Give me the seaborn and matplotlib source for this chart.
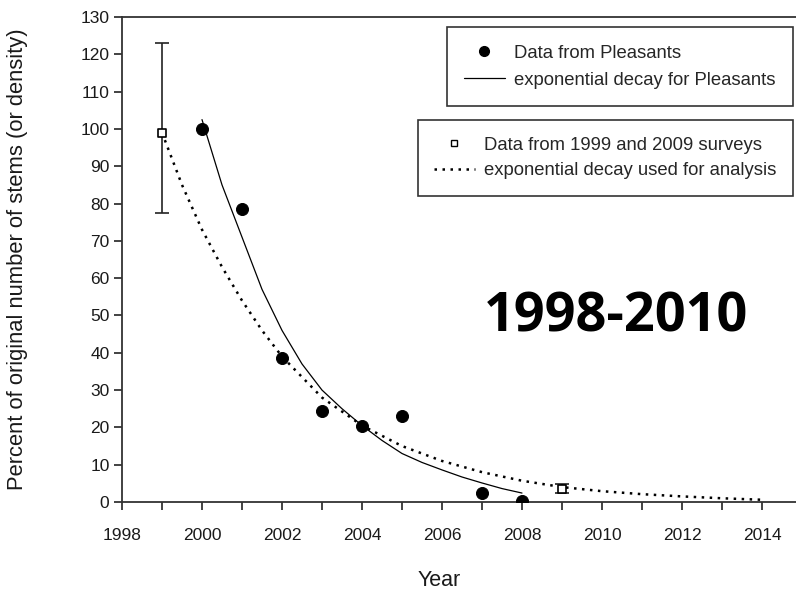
import matplotlib
matplotlib.use("Agg")
import matplotlib.pyplot as plt
import seaborn as sns
import pandas as pd
from matplotlib.lines import Line2D

# Data
pleasants_year = [2000, 2001, 2002, 2003, 2004, 2005, 2007, 2008]
pleasants_pct = [100, 78.5, 38.5, 24.5, 20.5, 23, 2.5, 0.3]

survey_year = [1999, 2009]
survey_pct = [99, 3.5]
survey_err_low = [21.5, 1.2]
survey_err_high = [24, 1.2]

fit_pleasants_year = [2000, 2000.5, 2001, 2001.5, 2002, 2002.5, 2003, 2003.5, 2004,
                      2004.5, 2005, 2005.5, 2006, 2006.5, 2007, 2007.5, 2008]
fit_pleasants_pct = [102.5, 85, 71, 57, 46, 37, 30, 25, 20.5,
                     16.5, 13, 10.6, 8.6, 6.7, 5.1, 3.6, 2.4]

fit_analysis_year = [1999, 1999.5, 2000, 2000.5, 2001, 2001.5, 2002, 2003, 2004, 2005, 2006,
                     2007, 2008, 2009, 2010, 2011, 2012, 2013, 2014]
fit_analysis_pct = [99, 85, 73, 63, 54, 46, 39, 28, 20.5, 15, 11,
                    8, 5.7, 4.0, 2.9, 2.1, 1.5, 1.0, 0.6]

xticks = list(range(1998, 2015, 2))
yticks = list(range(0, 131, 10))

sns.set_theme(style="ticks")
plt.rcParams['font.family'] = ['Liberation Sans', 'DejaVu Sans']

fig = plt.figure(figsize=(7.96, 5.94), dpi=100)
ax = fig.add_axes([122/796, 1-502/594, 1-122/796, (502-17)/594])

df_fit1 = pd.DataFrame({"Year": fit_pleasants_year, "pct": fit_pleasants_pct})
df_fit2 = pd.DataFrame({"Year": fit_analysis_year, "pct": fit_analysis_pct})
df_p = pd.DataFrame({"Year": pleasants_year, "pct": pleasants_pct})
df_s = pd.DataFrame({"Year": survey_year, "pct": survey_pct})

sns.lineplot(data=df_fit2, x="Year", y="pct", ax=ax, color="black",
             linestyle=(0, (1, 2.2)), linewidth=1.8, zorder=2)
sns.lineplot(data=df_fit1, x="Year", y="pct", ax=ax, color="black",
             linewidth=0.9, zorder=2)
ax.errorbar(survey_year, survey_pct, yerr=[survey_err_low, survey_err_high],
            fmt="none", ecolor="#222222", elinewidth=1.2, capsize=5, capthick=1.2, zorder=3)
sns.scatterplot(data=df_s, x="Year", y="pct", ax=ax, marker="s", s=40,
                facecolor="white", edgecolor="black", linewidth=1.2, zorder=4)
sns.scatterplot(data=df_p, x="Year", y="pct", ax=ax, marker="o", s=75,
                color="black", edgecolor="black", zorder=5)

ax.set_xlim(1998, 2014.85)
ax.set_ylim(0, 130)
ax.set_xticks(xticks)
ax.set_xticks(list(range(1998, 2015)), minor=True)
ax.set_yticks(yticks)
ax.tick_params(axis="both", which="both", direction="out", length=6, width=1.2,
               color="#222222", labelsize=12.5, labelcolor="#1a1a1a", pad=3)
ax.tick_params(axis="x", which="major", pad=13)
for side in ["left", "bottom", "top"]:
    ax.spines[side].set_visible(True)
    ax.spines[side].set_linewidth(1.3)
    ax.spines[side].set_color("#333333")
ax.spines["right"].set_visible(False)

ax.set_xlabel("Year", fontsize=15.5, color="#1a1a1a")
ax.xaxis.set_label_coords(0.47, -(580-502)/485, transform=ax.transAxes)
ax.xaxis.label.set_va("center")
ax.set_ylabel("Percent of original number of stems (or density)", fontsize=15.8,
              color="#1a1a1a")
ax.yaxis.set_label_coords(-(122-18)/674, 0.5, transform=ax.transAxes)
ax.yaxis.label.set_va("center")

lfs = 13.3
h1 = [Line2D([], [], marker="o", color="black", linestyle="none", markersize=7),
      Line2D([], [], color="black", linewidth=0.9)]
leg1 = fig.legend(h1, ["Data from Pleasants", "exponential decay for Pleasants"],
                  loc="upper right", bbox_to_anchor=(793/796, 1-27/594), borderaxespad=0,
                  fontsize=lfs, frameon=True, fancybox=False, edgecolor="black",
                  handlelength=2.2, borderpad=0.95, labelspacing=0.56, handletextpad=0.5)
leg1.get_frame().set_linewidth(1.2)
h2 = [Line2D([], [], marker="s", markerfacecolor="white", markeredgecolor="black",
             color="black", linestyle="none", markersize=5),
      Line2D([], [], color="black", linestyle=(0, (1, 2.2)), linewidth=1.8)]
leg2 = fig.legend(h2, ["Data from 1999 and 2009 surveys", "exponential decay used for analysis"],
                  loc="upper right", bbox_to_anchor=(793/796, 1-120/594), borderaxespad=0,
                  fontsize=lfs, frameon=True, fancybox=False, edgecolor="black",
                  handlelength=2.2, borderpad=0.9, labelspacing=0.48, handletextpad=0.5)
leg2.get_frame().set_linewidth(1.2)

fig.text(616/796, 1-317/594, "1998-2010", fontsize=39, fontweight="bold",
         family=["Open Sans", "DejaVu Sans"], ha="center", va="center", color="black")

fig.savefig("out.png", dpi=100)
